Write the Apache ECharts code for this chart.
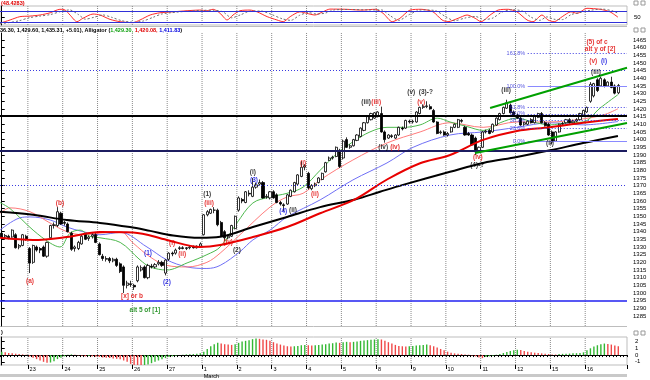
<!DOCTYPE html>
<html><head><meta charset="utf-8">
<script src="https://cdn.jsdelivr.net/npm/echarts@6.0.0/dist/echarts.min.js"></script>
<style>html,body{margin:0;padding:0;background:#fff;}#chart{width:650px;height:380px;}</style>
</head><body><div id="chart"></div>
<script>
// ---------------- data ----------------
const opens = [1339,1336.5,1337,1336.5,1338,1330,1331,1337,1329,1320,1330,1329,1330,1324,1336,1344,1344,1352,1346,1345,1339,1329,1329,1332,1338,1335.5,1337,1338,1332,1324,1322,1322.5,1321,1322,1319,1317,1305,1306,1305,1308,1315,1317,1310,1317.5,1317,1319,1320,1313,1322,1326,1326,1329,1329.5,1329,1329.5,1330,1329.5,1330.5,1338,1351,1352,1354,1354,1346,1340,1336,1337,1342,1354,1361,1359,1365,1363,1369,1371,1372,1362.5,1362,1366,1364,1359,1357.5,1358,1363,1366,1371,1376,1382,1378,1368,1370,1372,1374,1379,1386.5,1388,1389,1393,1388,1400,1395,1396,1399.5,1402,1406,1411,1413,1414,1415,1417,1405,1401,1402.5,1401,1403,1407.5,1407.5,1412,1411.5,1411.5,1417,1421,1421.5,1421.5,1419,1411.5,1404.5,1405,1403,1405,1408,1408,1412.5,1408,1404,1403,1401,1392.5,1395,1405,1406,1405,1409.5,1413,1417,1420.5,1422.5,1418,1416,1414,1410,1410,1413,1411,1414.5,1417,1411,1410,1405,1399,1405,1410,1411,1413,1411,1412,1413,1416,1418,1425,1428.5,1439,1435,1439,1435,1437.5,1435,1430.5];
const highs = [1340,1338.5,1338,1341.5,1339,1332,1338.5,1338,1330,1331.5,1331,1330,1331,1333.5,1344.5,1346,1356,1353,1347,1346,1340,1331,1334,1338,1339,1337.5,1339,1339,1333,1325.5,1324,1323.5,1323,1323,1320,1318,1308,1308,1306,1318,1318,1318,1319,1319,1319.5,1321.5,1321,1322,1326.5,1327,1329,1330.5,1330.5,1330,1331,1331,1331,1333,1351.5,1354,1355,1356,1355,1347,1341,1338,1344.5,1350.5,1363,1362,1366.5,1367,1375,1372,1374,1373,1364.5,1366.5,1367,1365,1360,1358.5,1364.5,1367.5,1372.5,1377.5,1386,1384,1379,1371,1372,1375.5,1378.5,1385.5,1389,1389.5,1395.5,1394,1400,1401.5,1397,1400.5,1403.5,1408,1411.5,1415.5,1417.5,1418,1418.5,1421.5,1406,1403.5,1403.5,1403.5,1408.5,1408.5,1413,1413,1413,1418.5,1421.5,1423,1425,1423,1420,1412,1406,1406,1405,1408.5,1410.5,1413.5,1413.5,1409,1405,1404,1402,1395.5,1405.5,1406.5,1407,1410.5,1414.5,1417.5,1421.5,1426,1423.5,1419,1417,1415,1411.5,1412.5,1414,1415.5,1417.5,1418,1412,1411,1406,1405.5,1410.5,1411.5,1413.5,1414,1413,1414,1417.5,1419.5,1421.5,1437.5,1437,1440,1441,1440,1438,1441,1436,1436.3];
const lows = [1336,1335.5,1335,1336,1329,1328.5,1330.5,1334,1313,1319,1327,1326,1323.5,1323,1335,1342,1343,1344.5,1344,1339.5,1327.5,1327,1328,1331.5,1334.5,1334,1335.5,1332.5,1324.5,1321,1320.5,1319.5,1320,1317,1313,1300,1303,1304,1302,1307,1314,1309.5,1309,1316,1316,1318,1317,1311.5,1321,1324,1325,1328,1328.5,1328,1328.5,1329,1329,1330,1337.5,1350,1351.5,1352,1343.5,1336.5,1334,1335,1336.5,1341.5,1353,1358.5,1358.5,1363,1362.5,1368,1370,1361.5,1361.5,1361,1361.5,1358.5,1357,1353.5,1357.5,1362.5,1365.5,1370.5,1375.5,1380,1367.5,1367,1369,1371.5,1373.5,1378.5,1386,1387,1388.5,1381.5,1387,1394.5,1394,1395.5,1399,1401.5,1405.5,1410.5,1412.5,1413.5,1414.5,1404.5,1398,1400.5,1401,1400.5,1402.5,1406,1407,1410.5,1410.5,1411,1416.5,1420,1420.5,1419.5,1411,1403.5,1403.5,1402.5,1402,1404.5,1407.5,1407.5,1411,1402.5,1402.5,1396,1390,1392,1394.5,1404,1403.5,1404.5,1409,1412.5,1416.5,1420,1417,1415.5,1413.5,1409,1409,1409.5,1410.5,1410.5,1414,1410.5,1408.5,1402.5,1397,1398.5,1404.5,1409,1410.5,1410.5,1410.5,1411.5,1412.5,1415.5,1417.5,1424,1427.5,1431,1434.5,1434,1434.5,1433.5,1429.5,1429.6];
const closes = [1336.5,1337.5,1336,1341,1329.5,1331,1338,1335,1319.5,1331,1328,1328,1324,1333,1344,1344.5,1353,1345,1345.5,1340,1328.5,1330,1333,1337,1335,1336.5,1338,1333,1325,1322.5,1322.5,1321,1322,1318,1314,1305,1306.5,1305.5,1304,1317,1316.5,1310,1318,1317,1318.5,1320,1318,1321.5,1326,1325.5,1328,1329.5,1329,1329.5,1330,1329.5,1330.5,1332,1351,1353,1354.5,1354,1344.5,1337,1336,1337,1344,1350,1362,1360,1366,1364.5,1369,1370.5,1372,1362,1363,1366,1362,1359,1358,1357,1364,1367,1372,1377,1382,1383,1368.5,1370,1371,1375,1378,1385,1388,1388.5,1395,1382.5,1399,1395,1396,1400,1403,1407.5,1411,1415,1417,1417.5,1418,1405,1400,1403,1402,1403,1408,1407,1412.5,1411.5,1412,1418,1421,1421.5,1422,1420,1411.5,1404,1405,1403,1404,1408,1410,1413,1412,1403,1403,1396.5,1392,1395,1405,1405.5,1404,1410,1414,1417,1421,1424,1417.5,1416,1414,1409.5,1411,1412,1411,1415,1417,1411,1409,1403,1398.5,1405,1410,1410.5,1413,1411,1412,1413,1417,1419,1421,1436,1436.5,1432,1440,1435,1437.5,1434,1430.3,1435.31];

// Awesome-oscillator histogram, one value per bar
const aoValues = [0.5,0.4,0.3,0.25,0.2,0.15,0.1,0.05,-0.2,-0.4,-0.6,-0.8,-1.0,-1.15,-1.1,-0.9,-0.6,-0.4,-0.2,0.05,0.1,0.05,-0.05,-0.1,-0.2,-0.15,-0.2,-0.25,-0.3,-0.35,-0.4,-0.45,-0.5,-0.55,-0.6,-0.8,-1.0,-1.3,-1.5,-1.7,-1.8,-1.6,-1.4,-1.2,-1.0,-0.8,-0.6,-0.45,-0.3,-0.2,-0.1,0,0.05,0.1,0.12,0.15,0.2,0.25,0.5,0.9,1.3,1.6,1.8,1.7,1.6,1.55,1.5,1.6,1.8,2.0,2.1,2.2,2.35,2.45,2.4,2.3,2.25,2.1,1.9,1.7,1.55,1.4,1.3,1.25,1.3,1.35,1.45,1.5,1.45,1.4,1.45,1.5,1.55,1.6,1.7,1.75,1.85,1.8,1.9,1.95,1.9,1.95,2.0,2.1,2.15,2.2,2.25,2.3,2.35,2.3,2.1,1.9,1.7,1.5,1.35,1.3,1.25,1.3,1.35,1.4,1.45,1.5,1.55,1.45,1.3,1.1,0.9,0.7,0.5,0.35,0.25,0.2,0.15,0.1,0.05,-0.05,-0.2,-0.35,-0.45,-0.3,-0.2,-0.1,0.05,0.15,0.3,0.45,0.6,0.7,0.8,0.75,0.6,0.5,0.4,0.35,0.3,0.25,0.2,0.15,0.1,0.08,0.15,0.18,0.2,0.22,0.25,0.28,0.32,0.4,0.7,1.0,1.25,1.45,1.6,1.7,1.65,1.55,1.4,1.3];

// oscillator (top panel): [bar index, value]
const oscRed = [[-0.5,17],[2.4,34],[5.2,51],[8.1,54],[11,59.5],[13.9,71],[16.7,89],[18.2,85],[19.6,59.5],[21.6,25],[23.3,42.5],[26.2,64.6],[28.2,59.5],[31.1,37],[34,25],[37.7,20],[39.7,34],[42.6,59.5],[45.4,71],[49.2,76],[53.2,81.6],[56.9,85],[58.9,81.6],[60.7,89],[62.7,68],[64.7,34],[66.4,59.5],[68.4,81.6],[71.3,85],[73.3,76],[76.2,51],[79,34],[80.8,25],[82.8,51],[85.6,76],[87.6,68],[89.9,59.5],[92.2,76],[94.2,90],[98.8,89],[103.4,85],[107.2,89],[109.5,68],[112.1,25],[114.3,42.5],[117.2,85],[120.4,89],[123.8,76],[126.4,34],[128.1,25],[131,42.5],[133.6,59.5],[135.9,42.5],[137.6,25],[140.2,59.5],[142.5,85],[145.4,89],[147.9,76],[150.8,34],[152.5,25],[155.1,59.5],[156.8,34],[158.6,25],[160.9,51],[163.4,76],[165.2,68],[168,94],[171.8,89],[174.6,76],[176.9,48.4]];
const oscGray = [[-0.5,15],[2,20],[5,30],[8,46],[11,54],[14,62],[17,78],[19.5,86],[22,62],[24,38],[26.5,48],[29,60],[31.5,48],[34.5,30],[38,22],[40.5,28],[43.5,48],[46,65],[50,74],[54,80],[58,84],[61,84],[63.5,76],[66,45],[68.5,60],[71.5,80],[74.5,80],[77.5,62],[80.5,40],[83,32],[85.5,58],[88,72],[90.5,64],[93,70],[95.5,86],[100,88],[105,86],[109,86],[111.5,56],[114,32],[117,62],[120.5,86],[124.5,82],[127.5,50],[130,30],[133,44],[136,52],[138.5,36],[141,44],[143.5,74],[146.5,87],[149.5,80],[152,48],[154.5,32],[156.5,50],[158.5,38],[161,36],[163.5,62],[166,72],[169,84],[172.5,90],[175.5,80],[177,68]];

// moving averages: [bar index, price]
const maBlack = [[-0.5,1353],[9,1351],[18.7,1347.6],[28.2,1345.7],[36.8,1343],[42.6,1340.5],[49.2,1337.5],[56.9,1336],[62.7,1336.7],[72.1,1343],[81.9,1349.6],[91.4,1356],[101.4,1361],[108.6,1366],[115.2,1370.5],[128.7,1379],[138.2,1384.8],[147.9,1388.7],[157.4,1393],[166.9,1397.8],[176.9,1402.4]];
const maRed = [[-0.5,1336],[9,1334.6],[18.7,1336.5],[28.2,1339.8],[37.7,1339.5],[47.4,1334.6],[56.9,1330],[62.7,1331.3],[72.1,1336.5],[81.9,1343],[91.4,1352],[101.4,1361],[110.6,1374],[120.1,1384.6],[128.7,1390],[138.2,1399.8],[147.9,1405.6],[157.4,1408],[166.9,1411],[176.9,1413.5]];
const jaw = [[-0.5,1341],[5.2,1349],[8.1,1349.6],[13.9,1347.6],[18.7,1343],[23.3,1340],[28.2,1338],[34,1339.5],[41.7,1330],[47.4,1321.6],[53.2,1317],[58.9,1316],[62.7,1318],[68.4,1327],[72.1,1334.6],[77,1341],[81.9,1349.6],[91.4,1360.7],[100.8,1373.7],[110.6,1384.8],[118.1,1395],[128.7,1403],[138.2,1405],[147.9,1408],[157.4,1411],[166.9,1409.6],[176.9,1411.8]];
const teeth = [[-0.5,1352],[2.4,1355.5],[8.1,1353],[13.9,1345.6],[18.7,1340],[23.3,1338],[28.2,1339],[34,1340],[37.7,1332.6],[42.6,1323.5],[47.4,1318],[53.2,1317],[58.9,1320],[62.7,1326],[68.4,1338],[77,1356],[81.9,1362.6],[86.5,1365],[91.4,1373.7],[100.8,1386.7],[110.6,1397.8],[120.1,1405],[128.7,1411],[138.2,1408],[147.9,1411.5],[157.4,1411.5],[165.2,1413],[172.6,1416],[176.9,1420.1]];
const lips = [[-0.5,1359],[2.4,1355],[9,1341],[13.9,1332.6],[16.7,1330],[19.6,1339],[22.5,1341],[25.3,1337],[28.2,1336],[34,1333],[39.7,1321.6],[42.6,1317],[47.4,1315],[53.2,1319.6],[58.9,1325],[62.7,1330],[67.5,1345.6],[72.1,1358.7],[77,1362.6],[81.9,1365],[86.5,1369],[91.4,1380],[96.3,1391],[100.8,1398.5],[105.7,1405],[110.6,1408],[115.2,1408],[120.1,1409.6],[125,1414],[128.7,1411.5],[133.6,1408.5],[138.2,1406],[143.1,1411],[147.9,1414],[152.5,1411.5],[157.4,1409.6],[162.3,1411],[166.9,1411.5],[171.8,1420.6],[176.9,1429.3]];

// horizontal levels, fibonacci levels, trend lines
const levels = [1445.5, 1415.5, 1392.5, 1370.5, 1295];
const fibLevels = [1456.4, 1434.5, 1421, 1416.75, 1412.6, 1407.4, 1399];
const fibNames = ['161.8%','100.0%','61.8%','50.0%','38.2%','23.6%','0.0%'];
const fibStart = 151;
const upperTrend = [[140.2, 1420.6], [179.5, 1446.8]];
const lowerTrend = [[135.9, 1391.3], [179.5, 1410.9]];

// wave-count annotations
const annoIdx = [16.7,8.1,37.4,41.1,48.9,51.8,42,47.4,59,59.5,67.5,65,72.1,72.4,80.8,83.6,86.5,89.9,104.6,107.5,109.5,112.9,120.1,120.4,136.7,136.5,144.8,157.4,170.6,169.8,172.9,170.9,171.8];
const annoPrice = [1358.7,1307.9,1298.1,1289,1332.6,1325.5,1326.1,1307.2,1364.6,1358.7,1328,1333.3,1378.9,1373.7,1353.5,1354.2,1384.8,1364.6,1424.6,1424.6,1395.2,1395.2,1431.1,1424.6,1388.7,1383.5,1432.3,1397.8,1444.1,1451.3,1451.3,1463.7,1459.1];
const annoText = ['(b)','(a)','[x] or b','alt 5 of [1]','(i)','(ii)','(1)','(2)','(1)','(iii)','(2)','(iv)','(i)','(3)','(4)','(ii)','(i)','(ii)','(iii)','(iii)','(iv)','(iv)','(v)  (3)-?','(v)','(iv)','(4)-?','(iii)','(ii)','(iii)','(v)','(i)','(5) of c','alt y of [2]'];
const annoColor = ['r','r','r','g','r','r','b','b','k','r','k','r','k','b','b','k','r','r','k','r','k','r','k','r','r','k','k','k','k','r','b','r','r'];

// axes
const dayStarts = [8,18,28,38,48,58,68,78,88,98,108,118,128,138,148,158,168];
const dayLabels = ['23','24','25','26','27','1','2','3','4','5','8','9','10','11','12','15','16'];
const monthLabelAt = 58, monthName = 'March';
const priceTicks = [1285,1290,1295,1300,1305,1310,1315,1320,1325,1330,1335,1340,1345,1350,1355,1360,1365,1370,1375,1380,1385,1390,1395,1400,1405,1410,1415,1420,1425,1430,1435,1440,1445,1450,1455,1460,1465];
const aoTicks = [2, 1, 0, -1];
const oscTicks = [50];

// ---------------- chart ----------------
const N = 180;
const cats = Array.from({length: N}, (_, i) => String(i));
const candleData = opens.map((o, i) => [o, closes[i], lows[i], highs[i]]);
const dayMap = {}; dayStarts.forEach((d, k) => dayMap[d] = dayLabels[k]);
const isDay = (i) => dayMap[i] !== undefined;
const FONT = 'Liberation Sans';
const COLS = {r: '#e00000', b: '#0000dd', k: '#000000', g: '#008000'};
const W = 627;
const plain = (v) => String(v);
const mlBase = {silent: true, symbol: ['none', 'none'], label: {show: false}, animation: false};

// dotted day separators: a broken line series (one segment per day boundary)
function sepSeries(x, y, lo, hi) {
  const pts = [];
  dayStarts.forEach(d => { pts.push([d - 0.5, lo], [d - 0.5, hi], [d - 0.5, null]); });
  return {type: 'line', xAxisIndex: x, yAxisIndex: y, data: pts, symbol: 'none', connectNulls: false,
    smooth: false, silent: true, z: 1, animation: false,
    lineStyle: {color: '#8a8a8a', width: 1, type: [1, 1]}};
}

const levelStyles = [
  {color: '#3a3ae0', type: [1, 2], width: 1},
  {color: '#000000', type: 'solid', width: 2},
  {color: '#1c1c60', type: 'solid', width: 2},
  {color: '#3a3ae0', type: [1, 2], width: 1},
  {color: '#2020f0', type: 'solid', width: 1.5}
];
const fibStyles = fibNames.map(n => (n === '100.0%' || n === '0.0%')
  ? {color: '#8a8aff', type: 'solid', width: 1}
  : {color: '#3a3ae0', type: [1, 2], width: 1});

const mainMarks = [].concat(
  levels.map((v, k) => ({yAxis: v, lineStyle: levelStyles[k]})),
  fibLevels.map((v, k) => [{coord: [fibStart, v], lineStyle: fibStyles[k]}, {coord: [179.5, v]}]),
  [[{coord: upperTrend[0], lineStyle: {color: '#00a000', width: 2, type: 'solid'}}, {coord: upperTrend[1]}]],
  [[{coord: lowerTrend[0], lineStyle: {color: '#00a000', width: 2, type: 'solid'}}, {coord: lowerTrend[1]}]]
);

const annoData = annoIdx.map((x, k) => ({
  value: [x, annoPrice[k]],
  label: {formatter: annoText[k], color: COLS[annoColor[k]]}
}));
const fibLabelData = fibLevels.map((v, k) => ({value: [fibStart, v], label: {formatter: fibNames[k]}}));

const aoData = aoValues.map((v, i) => ({
  value: v,
  itemStyle: {color: (i > 0 && v < aoValues[i - 1]) ? '#f04848' : '#33b833'}
}));

function lineSeries(data, color, width, x, y, extra) {
  return Object.assign({type: 'line', xAxisIndex: x, yAxisIndex: y, data: data, smooth: 0.35,
    symbol: 'none', lineStyle: {color: color, width: width}, silent: true, animation: false}, extra || {});
}

const option = {
  animation: false,
  backgroundColor: '#ffffff',
  grid: [
    {left: 0, top: 6, width: W, height: 19, show: true, borderColor: '#bdbdbd', borderWidth: 1},
    {left: 0, top: 33, width: W, height: 293},
    {left: 0, top: 337, width: W, height: 31, show: true, borderColor: '#bdbdbd', borderWidth: 1}
  ],
  xAxis: [
    {gridIndex: 0, type: 'value', min: -0.5, max: 179.5, show: false},
    {gridIndex: 1, type: 'category', data: cats, boundaryGap: true, show: false},
    {gridIndex: 1, type: 'value', min: -0.5, max: 179.5, show: false},
    {gridIndex: 2, type: 'category', data: cats, boundaryGap: true, position: 'bottom',
      axisLine: {show: true, lineStyle: {color: '#000', width: 1}},
      axisTick: {show: true, interval: 0, length: 2, lineStyle: {color: '#000'}},
      axisLabel: {show: true, interval: isDay,
        formatter: (v) => { const i = Number(v); return dayMap[i] + (i === monthLabelAt ? '\n' + monthName : ''); },
        align: 'left', fontSize: 5.5, lineHeight: 7, margin: 1, color: '#000', fontFamily: FONT},
      splitLine: {show: false}},
    {gridIndex: 2, type: 'category', data: cats, boundaryGap: true, position: 'bottom',
      axisLine: {show: false}, axisLabel: {show: false}, splitLine: {show: false},
      axisTick: {show: true, interval: isDay, length: 4, lineStyle: {color: '#000'}}},
    {gridIndex: 2, type: 'value', min: -0.5, max: 179.5, show: false}
  ],
  yAxis: [
    {gridIndex: 0, type: 'value', position: 'right', min: 8, max: 106,
      axisLine: {show: true, lineStyle: {color: '#000'}},
      axisTick: {show: true, customValues: oscTicks, length: 3, lineStyle: {color: '#000'}},
      axisLabel: {show: true, customValues: oscTicks, formatter: plain, fontSize: 6, margin: 7, color: '#000', fontFamily: FONT},
      splitLine: {show: false}},
    {gridIndex: 1, type: 'value', position: 'right', min: 1278.5, max: 1469.5,
      axisLine: {show: true, lineStyle: {color: '#000'}},
      axisTick: {show: true, customValues: priceTicks, length: 3, lineStyle: {color: '#000'}},
      axisLabel: {show: true, customValues: priceTicks, formatter: plain, fontSize: 6, margin: 6, color: '#000', fontFamily: FONT},
      splitLine: {show: false}},
    {gridIndex: 2, type: 'value', position: 'right', min: -1.467, max: 2.667,
      axisLine: {show: true, lineStyle: {color: '#000'}},
      axisTick: {show: true, customValues: aoTicks, length: 3, lineStyle: {color: '#000'}},
      axisLabel: {show: true, customValues: aoTicks, formatter: plain, fontSize: 6, margin: 8, color: '#000', fontFamily: FONT},
      splitLine: {show: false}}
  ],
  series: [
    // day separators
    sepSeries(0, 0, 8, 106),
    sepSeries(2, 1, 1278.5, 1469.5),
    sepSeries(5, 2, -1.467, 2.667),
    // top oscillator
    lineSeries(oscRed, '#ff2a2a', 1, 0, 0, {smooth: 0.25, z: 3,
      markLine: Object.assign({}, mlBase, {data: [
        {yAxis: 80, lineStyle: {color: '#3030d8', type: 'solid', width: 1}},
        {yAxis: 20, lineStyle: {color: '#3030d8', type: 'solid', width: 1}}]})}),
    lineSeries(oscGray, '#6e6e6e', 1, 0, 0, {smooth: 0.25, lineStyle: {color: '#6e6e6e', width: 1, type: [2, 2]}}),
    // main: reference lines
    {type: 'line', xAxisIndex: 2, yAxisIndex: 1, data: [], silent: true, z: 1,
      markLine: Object.assign({}, mlBase, {data: mainMarks})},
    // thin alligator lines
    lineSeries(jaw, '#6f6ff5', 1, 2, 1, {z: 2}),
    lineSeries(teeth, '#ff7a7a', 1, 2, 1, {z: 2}),
    lineSeries(lips, '#4db84d', 1, 2, 1, {z: 2}),
    // candles
    {type: 'candlestick', xAxisIndex: 1, yAxisIndex: 1, data: candleData, barWidth: 2.6, silent: true, z: 3,
      itemStyle: {color: '#ffffff', color0: '#000000', borderColor: '#000000', borderColor0: '#000000', borderWidth: 0.8}},
    // thick moving averages
    lineSeries(maBlack, '#000000', 2, 2, 1, {z: 4}),
    lineSeries(maRed, '#e80000', 2, 2, 1, {z: 4}),
    // annotations
    {type: 'scatter', xAxisIndex: 2, yAxisIndex: 1, data: annoData, symbol: 'circle', symbolSize: 1, silent: true, z: 6,
      itemStyle: {color: 'rgba(0,0,0,0)'},
      label: {show: true, position: 'inside', fontSize: 6.5, fontWeight: 'bold', fontFamily: FONT}},
    {type: 'scatter', xAxisIndex: 2, yAxisIndex: 1, data: fibLabelData, symbol: 'circle', symbolSize: 1, silent: true, z: 6,
      itemStyle: {color: 'rgba(0,0,0,0)'},
      label: {show: true, position: 'left', distance: 2, fontSize: 5.5, color: '#2a2ad8', fontFamily: FONT}},
    // AO panel
    {type: 'bar', xAxisIndex: 3, yAxisIndex: 2, data: aoData, barWidth: 1.4, silent: true, z: 3}
  ],
  graphic: [
    {type: 'line', shape: {x1: 0, y1: 26.5, x2: W, y2: 26.5}, style: {stroke: '#bdbdbd', lineWidth: 1}, silent: true},
    {type: 'line', shape: {x1: 0, y1: 326.5, x2: W, y2: 326.5}, style: {stroke: '#bdbdbd', lineWidth: 1}, silent: true},
    {type: 'rect', shape: {x: 0, y: 374, width: W, height: 3}, style: {fill: '#c9c9c9'}, silent: true, z: -1},
    {type: 'text', x: 1, y: 0, silent: true,
      style: {text: '(48.4283)', fill: '#e00000', font: 'bold 5.5px "Liberation Sans"'}},
    {type: 'text', x: 0, y: 27, silent: true,
      style: {text: '{k|36.30, 1,429.60, 1,435.31, +5.01), Alligator (}{g|1,429.30,} {r|1,420.08,} {b|1,411.83}{k|)}',
        font: 'bold 5.5px "Liberation Sans"',
        rich: {k: {fill: '#000', font: 'bold 5.5px "Liberation Sans"'}, g: {fill: '#10a010', font: 'bold 5.5px "Liberation Sans"'},
               r: {fill: '#e00000', font: 'bold 5.5px "Liberation Sans"'}, b: {fill: '#0000e0', font: 'bold 5.5px "Liberation Sans"'}}}},
    {type: 'text', x: 1, y: 329, silent: true, style: {text: ')', fill: '#000', font: 'bold 5.5px "Liberation Sans"'}},
    {type: 'rect', shape: {x: 634, y: 1, width: 4, height: 4}, style: {fill: '#fff', stroke: '#999', lineWidth: 1}, silent: true},
    {type: 'rect', shape: {x: 641, y: 1, width: 4, height: 4}, style: {fill: '#fff', stroke: '#999', lineWidth: 1}, silent: true},
    {type: 'rect', shape: {x: 634, y: 28, width: 4, height: 4}, style: {fill: '#fff', stroke: '#999', lineWidth: 1}, silent: true},
    {type: 'rect', shape: {x: 641, y: 28, width: 4, height: 4}, style: {fill: '#fff', stroke: '#999', lineWidth: 1}, silent: true},
    {type: 'rect', shape: {x: 634, y: 331, width: 4, height: 4}, style: {fill: '#fff', stroke: '#999', lineWidth: 1}, silent: true},
    {type: 'rect', shape: {x: 641, y: 331, width: 4, height: 4}, style: {fill: '#fff', stroke: '#999', lineWidth: 1}, silent: true}
  ]
};

const chart = echarts.init(document.getElementById('chart'), null, {renderer: 'canvas'});
chart.setOption(option);
</script></body></html>
